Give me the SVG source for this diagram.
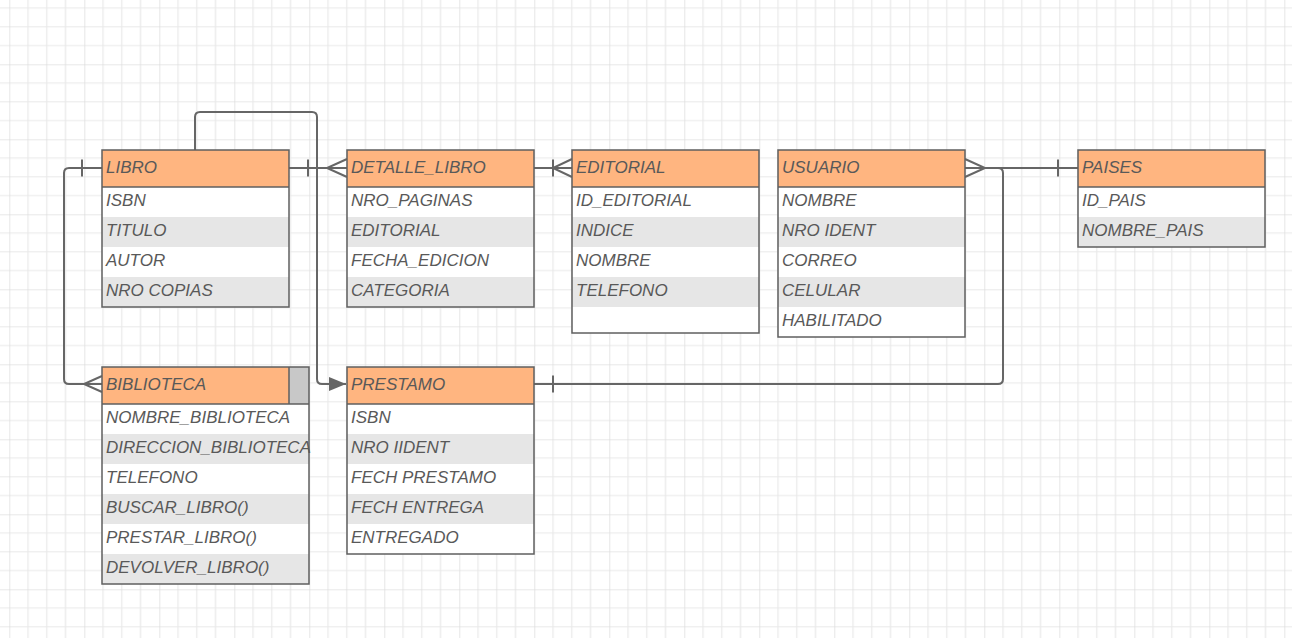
<svg xmlns="http://www.w3.org/2000/svg" width="1292" height="638" viewBox="0 0 1292 638">
<defs>
<pattern id="grid" patternUnits="userSpaceOnUse" x="9.3" y="-10.7" width="75" height="75">
<path d="M0 0V75M18.75 0V75M37.5 0V75M56.25 0V75M0 0H75M0 18.75H75M0 37.5H75M0 56.25H75" stroke="#e9e9e9" stroke-width="1.2" fill="none"/>
<path d="M0 0V75M0 0H75" stroke="#dadada" stroke-width="1" fill="none"/>
</pattern>
<marker id="arrow" markerWidth="18" markerHeight="14" refX="17" refY="7" orient="auto" markerUnits="userSpaceOnUse" viewBox="0 0 18 14">
<path d="M0 0L17 7L0 14z" fill="#666"/>
</marker>
</defs>
<style>
.body{fill:#fff}
.alt{fill:#e6e6e6}
.hdr{fill:#ffb580}
.box{fill:none;stroke:#5f5f5f;stroke-width:1.5}
.sep{stroke:#5f5f5f;stroke-width:1.5}
text{font-family:"Liberation Sans",Arial,sans-serif;font-size:17px;font-style:italic;fill:#595959}
.ln{fill:none;stroke:#666;stroke-width:2}
</style>
<rect width="1292" height="638" fill="#fff"/>
<rect width="1292" height="638" fill="url(#grid)"/>

<g id="connectors">
<path class="ln" d="M195 150V117Q195 112 200 112H312Q317 112 317 117V379Q317 384 322 384H346" marker-end="url(#arrow)"/>
<path class="ln" d="M102 168H69Q64 168 64 173V379Q64 384 69 384H102"/>
<path class="ln" d="M82 159.5V176.5"/>
<path class="ln" d="M102 376L84 384L102 392"/>
<path class="ln" d="M289 168H347"/>
<path class="ln" d="M308 159.5V176.5"/>
<path class="ln" d="M347 159L327 168L347 177"/>
<path class="ln" d="M534 168H572"/>
<path class="ln" d="M553 159.5V176.5"/>
<path class="ln" d="M572 159L553 168L572 177"/>
<path class="ln" d="M965 168H1078"/>
<path class="ln" d="M1058 159.5V176.5"/>
<path class="ln" d="M965 159L985 168L965 177"/>
<path class="ln" d="M985 168H998Q1003 168 1003 173V379Q1003 384 998 384H534"/>
<path class="ln" d="M553 375.5V392.5"/>
</g>

<g id="libro">
<rect class="body" x="102" y="150" width="187" height="157"/>
<rect class="alt" x="102" y="217" width="187" height="30"/>
<rect class="alt" x="102" y="277" width="187" height="30"/>
<rect class="hdr" x="102" y="150" width="187" height="37"/>
<line class="sep" x1="102" y1="187" x2="289" y2="187"/>
<rect class="box" x="102" y="150" width="187" height="157"/>
<text x="106" y="172.5">LIBRO</text>
<text x="106" y="206">ISBN</text>
<text x="106" y="236">TITULO</text>
<text x="106" y="266">AUTOR</text>
<text x="106" y="296">NRO COPIAS</text>
</g>

<g id="detalle_libro">
<rect class="body" x="347" y="150" width="187" height="157"/>
<rect class="alt" x="347" y="217" width="187" height="30"/>
<rect class="alt" x="347" y="277" width="187" height="30"/>
<rect class="hdr" x="347" y="150" width="187" height="37"/>
<line class="sep" x1="347" y1="187" x2="534" y2="187"/>
<rect class="box" x="347" y="150" width="187" height="157"/>
<text x="351" y="172.5">DETALLE_LIBRO</text>
<text x="351" y="206">NRO_PAGINAS</text>
<text x="351" y="236">EDITORIAL</text>
<text x="351" y="266">FECHA_EDICION</text>
<text x="351" y="296">CATEGORIA</text>
</g>

<g id="editorial">
<rect class="body" x="572" y="150" width="187" height="183"/>
<rect class="alt" x="572" y="217" width="187" height="30"/>
<rect class="alt" x="572" y="277" width="187" height="30"/>
<rect class="hdr" x="572" y="150" width="187" height="37"/>
<line class="sep" x1="572" y1="187" x2="759" y2="187"/>
<rect class="box" x="572" y="150" width="187" height="183"/>
<text x="576" y="172.5">EDITORIAL</text>
<text x="576" y="206">ID_EDITORIAL</text>
<text x="576" y="236">INDICE</text>
<text x="576" y="266">NOMBRE</text>
<text x="576" y="296">TELEFONO</text>
</g>

<g id="usuario">
<rect class="body" x="778" y="150" width="187" height="187"/>
<rect class="alt" x="778" y="217" width="187" height="30"/>
<rect class="alt" x="778" y="277" width="187" height="30"/>
<rect class="hdr" x="778" y="150" width="187" height="37"/>
<line class="sep" x1="778" y1="187" x2="965" y2="187"/>
<rect class="box" x="778" y="150" width="187" height="187"/>
<text x="782" y="172.5">USUARIO</text>
<text x="782" y="206">NOMBRE</text>
<text x="782" y="236">NRO IDENT</text>
<text x="782" y="266">CORREO</text>
<text x="782" y="296">CELULAR</text>
<text x="782" y="326">HABILITADO</text>
</g>

<g id="paises">
<rect class="body" x="1078" y="150" width="187" height="97"/>
<rect class="alt" x="1078" y="217" width="187" height="30"/>
<rect class="hdr" x="1078" y="150" width="187" height="37"/>
<line class="sep" x1="1078" y1="187" x2="1265" y2="187"/>
<rect class="box" x="1078" y="150" width="187" height="97"/>
<text x="1082" y="172.5">PAISES</text>
<text x="1082" y="206">ID_PAIS</text>
<text x="1082" y="236">NOMBRE_PAIS</text>
</g>

<g id="biblioteca">
<rect class="body" x="102" y="367" width="207" height="217"/>
<rect class="alt" x="102" y="434" width="207" height="30"/>
<rect class="alt" x="102" y="494" width="207" height="30"/>
<rect class="alt" x="102" y="554" width="207" height="30"/>
<rect class="hdr" x="102" y="367" width="207" height="37"/>
<rect x="289" y="367" width="20" height="37" fill="#c8c8c8"/>
<line class="sep" x1="289" y1="367" x2="289" y2="404"/>
<line class="sep" x1="102" y1="404" x2="309" y2="404"/>
<rect class="box" x="102" y="367" width="207" height="217"/>
<text x="106" y="389.5">BIBLIOTECA</text>
<text x="106" y="423">NOMBRE_BIBLIOTECA</text>
<text x="106" y="453">DIRECCION_BIBLIOTECA</text>
<text x="106" y="483">TELEFONO</text>
<text x="106" y="513">BUSCAR_LIBRO()</text>
<text x="106" y="543">PRESTAR_LIBRO()</text>
<text x="106" y="573">DEVOLVER_LIBRO()</text>
</g>

<g id="prestamo">
<rect class="body" x="347" y="367" width="187" height="187"/>
<rect class="alt" x="347" y="434" width="187" height="30"/>
<rect class="alt" x="347" y="494" width="187" height="30"/>
<rect class="hdr" x="347" y="367" width="187" height="37"/>
<line class="sep" x1="347" y1="404" x2="534" y2="404"/>
<rect class="box" x="347" y="367" width="187" height="187"/>
<text x="351" y="389.5">PRESTAMO</text>
<text x="351" y="423">ISBN</text>
<text x="351" y="453">NRO IIDENT</text>
<text x="351" y="483">FECH PRESTAMO</text>
<text x="351" y="513">FECH ENTREGA</text>
<text x="351" y="543">ENTREGADO</text>
</g>
</svg>
